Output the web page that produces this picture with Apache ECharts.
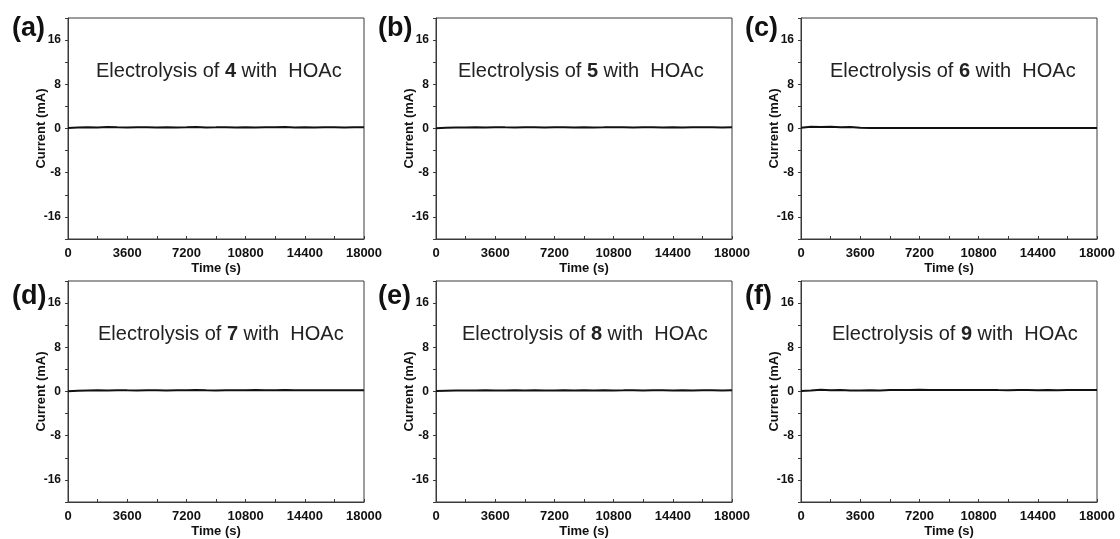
<!DOCTYPE html>
<html>
<head>
<meta charset="utf-8">
<script src="https://cdn.jsdelivr.net/npm/echarts@6/dist/echarts.min.js"></script>
<style>
html,body{margin:0;padding:0;background:#fff;}
#chart{width:1120px;height:539px;}
</style>
</head>
<body>
<div id="chart"></div>
<script>
// ---- data ----
const timeS = [0,600,1200,1800,2400,3000,3600,4200,4800,5400,6000,6600,7200,7800,8400,9000,9600,10200,10800,11400,12000,12600,13200,13800,14400,15000,15600,16200,16800,17400,18000];
const panelLetters = ['(a)','(b)','(c)','(d)','(e)','(f)'];
const compounds = ['4','5','6','7','8','9'];
const currentA = [0.10,0.18,0.22,0.20,0.25,0.21,0.19,0.24,0.22,0.18,0.23,0.20,0.22,0.25,0.19,0.21,0.24,0.20,0.22,0.19,0.23,0.21,0.25,0.20,0.22,0.18,0.21,0.23,0.20,0.22,0.21];
const currentB = [0.05,0.12,0.18,0.20,0.22,0.19,0.23,0.21,0.20,0.24,0.22,0.19,0.21,0.23,0.20,0.22,0.19,0.21,0.24,0.22,0.20,0.23,0.21,0.19,0.22,0.20,0.23,0.21,0.22,0.20,0.22];
const currentC = [0.15,0.30,0.25,0.32,0.22,0.28,0.12,0.10,0.11,0.10,0.09,0.10,0.11,0.10,0.09,0.10,0.11,0.10,0.10,0.09,0.10,0.11,0.10,0.10,0.09,0.10,0.10,0.11,0.10,0.09,0.10];
const currentD = [0.05,0.15,0.20,0.22,0.19,0.23,0.21,0.20,0.24,0.22,0.19,0.21,0.23,0.25,0.22,0.20,0.24,0.21,0.23,0.26,0.24,0.22,0.25,0.23,0.21,0.24,0.22,0.23,0.21,0.22,0.23];
const currentE = [0.08,0.14,0.18,0.20,0.17,0.21,0.19,0.20,0.22,0.18,0.21,0.20,0.19,0.22,0.20,0.21,0.19,0.22,0.20,0.21,0.23,0.20,0.22,0.21,0.19,0.22,0.20,0.21,0.22,0.20,0.21];
const currentF = [0.10,0.16,0.30,0.22,0.28,0.20,0.18,0.21,0.19,0.25,0.28,0.26,0.30,0.27,0.29,0.26,0.28,0.25,0.27,0.29,0.26,0.24,0.27,0.25,0.23,0.26,0.24,0.27,0.25,0.26,0.27];
const series6 = [currentA,currentB,currentC,currentD,currentE,currentF];
const yTickLabels = [-16,-8,0,8,16];
const xTickLabels = [0,3600,7200,10800,14400,18000];

// ---- layout ----
const lefts = [68, 436, 801];
const tops = [18, 281];
const gw = 296, gh = 221;
const font = 'Arial, "Liberation Sans", sans-serif';

const grids = [], xAxes = [], yAxes = [], series = [], titles = [];
for (let i = 0; i < 6; i++) {
  const col = i % 3, row = Math.floor(i / 3);
  grids.push({left: lefts[col], top: tops[row], width: gw, height: gh,
    show: true, borderColor: '#3a3a3a', borderWidth: 1, backgroundColor: 'transparent'});
  xAxes.push({
    type: 'value', gridIndex: i, min: 0, max: 18000, interval: 1800,
    name: 'Time (s)', nameLocation: 'middle', nameGap: 23, nameMoveOverlap: false,
    nameTextStyle: {fontFamily: font, fontWeight: 'bold', fontSize: 13, color: '#111'},
    axisLine: {show: true, onZero: false, lineStyle: {color: '#3a3a3a', width: 1}},
    axisTick: {show: true, length: 3, inside: true, lineStyle: {color: '#3a3a3a'}},
    splitLine: {show: false},
    axisLabel: {fontFamily: font, fontWeight: 'bold', fontSize: 13, color: '#111', margin: 8,
      showMaxLabel: true, showMinLabel: true, hideOverlap: false,
      formatter: v => xTickLabels.indexOf(v) >= 0 ? String(v) : ''}
  });
  yAxes.push({
    type: 'value', gridIndex: i, min: -20, max: 20, interval: 4,
    name: 'Current (mA)', nameLocation: 'middle', nameGap: 20, nameRotate: 90, nameMoveOverlap: false,
    nameTextStyle: {fontFamily: font, fontWeight: 'bold', fontSize: 13, color: '#111'},
    axisLine: {show: true, onZero: false, lineStyle: {color: '#3a3a3a', width: 1}},
    axisTick: {show: true, length: 3, inside: false, lineStyle: {color: '#3a3a3a'}},
    splitLine: {show: false},
    axisLabel: {fontFamily: font, fontWeight: 'bold', fontSize: 12, color: '#111', margin: 7,
      formatter: v => yTickLabels.indexOf(v) >= 0 ? String(v) : ''}
  });
  series.push({
    type: 'line', xAxisIndex: i, yAxisIndex: i, showSymbol: false, symbol: 'none',
    data: timeS.map((t, k) => [t, series6[i][k]]),
    lineStyle: {color: '#111', width: 2}, silent: true, animation: false
  });
  const letterLeft = [12, 378, 745][col];
  titles.push({
    text: panelLetters[i], left: letterLeft, top: row === 0 ? tops[row] - 3 : tops[row] + 2, padding: 0,
    textStyle: {fontFamily: font, fontWeight: 'bold', fontSize: 27, color: '#111'}
  });
  const annLeft = [[96, 458, 830], [98, 462, 832]][row][col];
  titles.push({
    text: 'Electrolysis of {b|' + compounds[i] + '} with  HOAc',
    left: annLeft, top: tops[row] + 43, padding: 0,
    textStyle: {fontFamily: font, fontWeight: 'normal', fontSize: 20, color: '#222',
      rich: {b: {fontFamily: font, fontWeight: 'bold', fontSize: 20, color: '#222'}}}
  });
}

const chart = echarts.init(document.getElementById('chart'), null, {renderer: 'canvas'});
chart.setOption({
  backgroundColor: '#fff',
  animation: false,
  title: titles,
  grid: grids,
  xAxis: xAxes,
  yAxis: yAxes,
  series: series
});
</script>
</body>
</html>
